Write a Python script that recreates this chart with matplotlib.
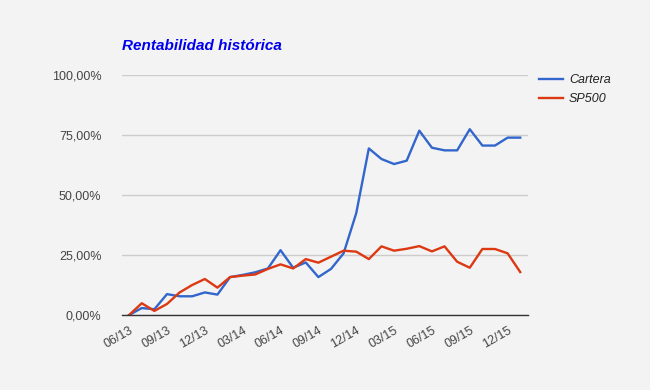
import matplotlib
matplotlib.use("Agg")
import matplotlib.pyplot as plt
from matplotlib.ticker import FuncFormatter

months = ["06/13", "07/13", "08/13", "09/13", "10/13", "11/13", "12/13", "01/14",
          "02/14", "03/14", "04/14", "05/14", "06/14", "07/14", "08/14", "09/14",
          "10/14", "11/14", "12/14", "01/15", "02/15", "03/15", "04/15", "05/15",
          "06/15", "07/15", "08/15", "09/15", "10/15", "11/15", "12/15", "01/16"]

cartera = [0.0, 2.9, 2.4, 8.7, 7.8, 7.8, 9.4, 8.5, 15.8, 16.7, 17.8, 19.4,
           27.0, 19.7, 21.9, 15.8, 19.2, 25.7, 42.4, 69.4, 65.0, 62.9, 64.3, 76.8,
           69.7, 68.6, 68.6, 77.4, 70.6, 70.6, 73.9, 73.9]

sp500 = [0.0, 4.9, 1.7, 4.6, 9.4, 12.5, 15.0, 11.4, 15.8, 16.4, 16.9, 19.2,
         21.1, 19.4, 23.3, 21.8, 24.3, 26.8, 26.4, 23.3, 28.6, 26.8, 27.6, 28.7,
         26.5, 28.6, 22.2, 19.7, 27.5, 27.5, 25.7, 17.9]

yticks = [0, 25, 50, 75, 100]

bg = "#f3f3f3"
plt.rcParams["font.family"] = ["Liberation Sans", "DejaVu Sans"]

fig = plt.figure(figsize=(6.5, 3.9), dpi=100, facecolor=bg)
ax = fig.add_axes([0.188, 0.1923, 0.624, 0.6154], facecolor=bg)

x = list(range(len(months)))
ax.plot(x, cartera, color="#3366cc", lw=1.7, label="Cartera")
ax.plot(x, sp500, color="#dc3912", lw=1.7, label="SP500")

ax.set_ylim(0, 100)
ax.set_xlim(-0.55, 31.6)
ax.set_yticks(yticks)
ax.yaxis.set_major_formatter(FuncFormatter(lambda v, p: f"{v:.2f}%".replace(".", ",")))
ax.grid(axis="y", color="#cccccc", lw=1)
ax.set_axisbelow(True)

ax.set_xticks(x[::3])
ax.set_xticklabels(months[::3], rotation=30, ha="right", rotation_mode="anchor")
ax.tick_params(axis="both", length=0, labelsize=9, labelcolor="#444444")
ax.tick_params(axis="y", pad=15)
ax.tick_params(axis="x", pad=7)

for s in ["top", "right", "left"]:
    ax.spines[s].set_visible(False)
ax.spines["bottom"].set_color("#333333")
ax.spines["bottom"].set_linewidth(1)

fig.text(0.188, 0.872, "Rentabilidad histórica", color="#0000ee", fontsize=11,
         fontweight="bold", fontstyle="italic")

leg = fig.legend(loc="upper left", bbox_to_anchor=(539 / 650, 1 - 74 / 390), frameon=False,
                 prop={"style": "italic", "size": 9}, handlelength=1.9,
                 handletextpad=0.5, labelspacing=0.6, borderaxespad=0, borderpad=0)
for t in leg.get_texts():
    t.set_color("#222222")

fig.savefig("out.png", dpi=100, facecolor=bg)
